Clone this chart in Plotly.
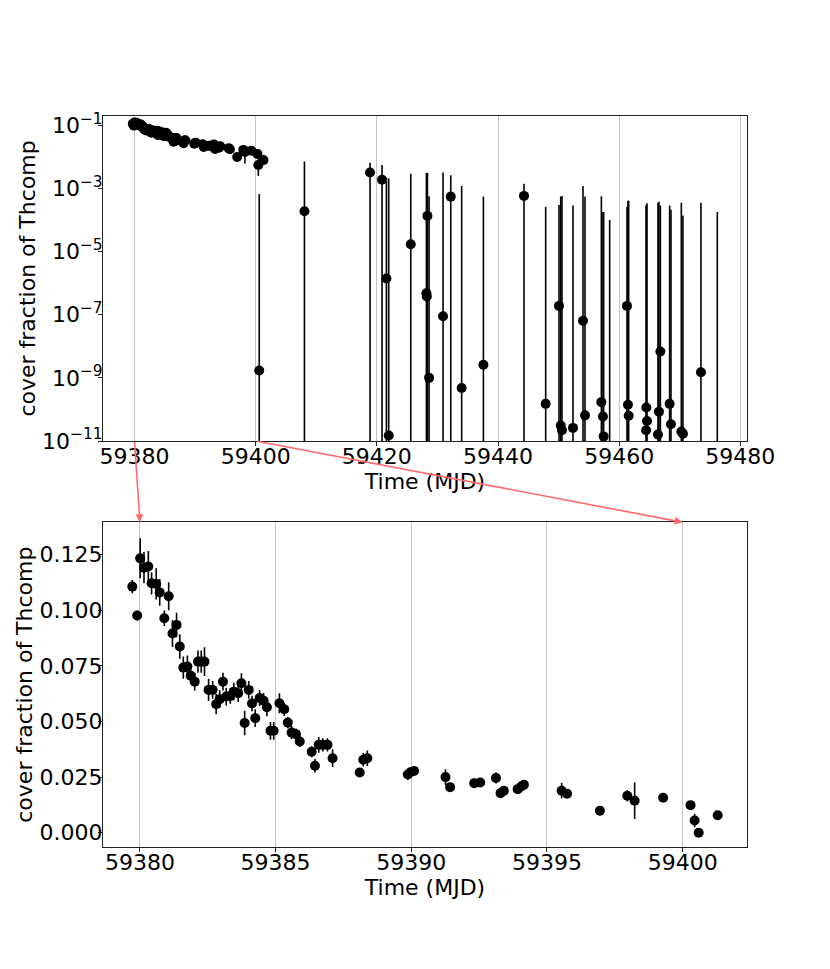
import numpy as np
import plotly.graph_objects as go

# ---------------- data ----------------
mjd = [
    59379.72, 59379.90, 59380.01, 59380.15, 59380.31, 59380.43, 59380.60, 59380.73, 59380.90, 59381.06,
    59381.20, 59381.35, 59381.47, 59381.60, 59381.75, 59381.87, 59382.02, 59382.14, 59382.26, 59382.38,
    59382.53, 59382.68, 59382.81, 59382.94, 59383.06, 59383.18, 59383.33, 59383.46, 59383.62, 59383.74,
    59383.86, 59384.01, 59384.13, 59384.25, 59384.41, 59384.56, 59384.68, 59384.81, 59384.93, 59385.14,
    59385.32, 59385.45, 59385.59, 59385.75, 59385.89, 59386.33, 59386.45, 59386.59, 59386.74, 59386.91,
    59387.10, 59388.10, 59388.23, 59388.38, 59389.87, 59389.97, 59390.10, 59391.26, 59391.43, 59392.32,
    59392.54, 59393.12, 59393.29, 59393.41, 59393.92, 59394.05, 59394.15, 59395.54, 59395.74, 59396.95,
    59397.96, 59398.23, 59399.28, 59400.29, 59400.44, 59400.59, 59401.29,
    59408.05, 59418.88, 59420.86, 59421.58, 59421.96, 59425.60, 59428.35, 59428.18, 59428.25, 59428.62,
    59430.93, 59432.20, 59434.00, 59437.59, 59444.29,
    59447.87, 59450.07, 59450.35, 59450.56, 59452.38, 59454.03, 59454.36, 59457.06, 59457.33, 59457.44,
    59458.43, 59461.29, 59461.45, 59461.57, 59464.49, 59464.59, 59464.45, 59466.80, 59466.57, 59466.40,
    59468.33, 59468.55, 59470.26, 59470.53, 59473.50, 59476.20,
]
cover = [
    0.1106, 0.0976, 0.1233, 0.1191, 0.1196, 0.1121, 0.1118, 0.1080, 0.0964, 0.1063,
    0.0895, 0.0934, 0.0837, 0.0742, 0.0747, 0.0706, 0.0679, 0.0769, 0.0769, 0.0769,
    0.0642, 0.0642, 0.0578, 0.0600, 0.0679, 0.0612, 0.0615, 0.0634, 0.0627, 0.0672,
    0.0493, 0.0642, 0.0581, 0.0515, 0.0605, 0.0593, 0.0564, 0.0458, 0.0458, 0.0582,
    0.0555, 0.0495, 0.0450, 0.0443, 0.0410, 0.0364, 0.0301, 0.0395, 0.0395, 0.0395,
    0.0335, 0.0271, 0.0328, 0.0335, 0.0262, 0.0272, 0.0278, 0.0250, 0.0205, 0.0223,
    0.0226, 0.0246, 0.0178, 0.0189, 0.0196, 0.0208, 0.0216, 0.0189, 0.0175, 0.0099,
    0.0166, 0.0144, 0.0157, 0.0124, 0.0055, 1.7e-9, 0.0079,
    1.9e-4, 3.2e-3, 1.9e-3, 1.4e-6, 1.5e-11, 1.7e-5, 1.35e-4, 4.8e-7, 3.8e-7, 1.0e-9,
    8.9e-8, 5.5e-4, 4.8e-10, 2.6e-9, 5.8e-4,
    1.5e-10, 1.9e-7, 3.1e-11, 2.2e-11, 2.6e-11, 6.4e-8, 6.5e-11, 1.7e-10, 6.0e-11, 1.4e-11,
    1e-13, 1.9e-7, 1.4e-10, 6.3e-11, 1.15e-10, 4.3e-11, 2.2e-11, 6.8e-9, 8.5e-11, 1.6e-11,
    1.5e-10, 3.4e-11, 2.0e-11, 1.7e-11, 1.5e-9, 1e-13,
]
cover_err = [
    0.0030, 0.0022, 0.0090, 0.0070, 0.0070, 0.0050, 0.0070, 0.0060, 0.0035, 0.0063,
    0.0060, 0.0055, 0.0055, 0.0050, 0.0050, 0.0035, 0.0040, 0.0050, 0.0050, 0.0065,
    0.0050, 0.0040, 0.0045, 0.0040, 0.0040, 0.0040, 0.0035, 0.0040, 0.0040, 0.0045,
    0.0055, 0.0040, 0.0035, 0.0040, 0.0035, 0.0035, 0.0040, 0.0040, 0.0040, 0.0045,
    0.0030, 0.0025, 0.0030, 0.0025, 0.0025, 0.0025, 0.0030, 0.0035, 0.0030, 0.0030,
    0.0040, 0.0020, 0.0030, 0.0035, 0.0025, 0.0020, 0.0015, 0.0035, 0.0015, 0.0020,
    0.0015, 0.0025, 0.0015, 0.0015, 0.0015, 0.0020, 0.0020, 0.0035, 0.0015, 0.0020,
    0.0025, 0.0082, 0.0015, 0.0015, 0.0030, 6.6e-4, 0.0015,
    7.0e-3, 3.3e-3, 3.6e-3, 2.1e-3, 2.1e-3, 2.9e-3, 3.0e-3, 3.1e-3, 3.0e-3, 5.7e-4,
    3.2e-3, 2.05e-3, 1.2e-3, 5.5e-4, 8.2e-4,
    2.6e-4, 3.0e-4, 5.6e-4, 5.8e-4, 2.9e-4, 1.2e-3, 5.6e-4, 5.7e-4, 1.8e-4, 1.8e-4,
    1.0e-4, 2.6e-4, 4.1e-4, 4.1e-4, 2.9e-4, 3.4e-4, 2.9e-4, 2.9e-4, 3.8e-4, 3.5e-4,
    2.9e-4, 2.1e-4, 3.5e-4, 1.4e-4, 3.5e-4, 1.8e-4,
]

top_xticks = [59380, 59400, 59420, 59440, 59460, 59480]
bot_xticks = [59380, 59385, 59390, 59395, 59400]
top_ytick_exp = [-11, -9, -7, -5, -3, -1]
bot_yticks = [0.000, 0.025, 0.050, 0.075, 0.100, 0.125]

# ---------------- layout geometry ----------------
# the page body adds an 8px offset, so the figure is slightly smaller
W, H = 822, 961
ML, MR, MT, MB = 95, 83, 108, 122
top_dom = [0.5554, 1.0]
bot_dom = [0.0, 0.4442]
top_xr = [59374.8, 59481.1]
top_yr = [-11.0, -0.706]
bot_xr = [59378.64, 59402.37]
bot_yr = [-0.0064, 0.1395]

x = np.array(mjd)
v = np.array(cover)
e = np.array(cover_err)
floor = 1e-15
minus_log = np.where(v > e, e, v - floor)

FONT = "DejaVu Sans"
fig = go.Figure()

fig.add_trace(go.Scatter(
    x=x, y=v, mode="markers",
    marker=dict(color="black", size=10),
    error_y=dict(type="data", symmetric=False, array=e, arrayminus=minus_log,
                 color="black", thickness=1.6, width=0),
    xaxis="x", yaxis="y", showlegend=False, cliponaxis=True,
))

m = x < bot_xr[1]
fig.add_trace(go.Scatter(
    x=x[m], y=v[m], mode="markers",
    marker=dict(color="black", size=10),
    error_y=dict(type="data", array=e[m], color="black", thickness=1.6, width=0),
    xaxis="x2", yaxis="y2", showlegend=False, cliponaxis=True,
))

axis_common = dict(
    showline=True, mirror=True, linecolor="#222", linewidth=1,
    ticks="outside", ticklen=4, tickwidth=1, tickcolor="#222",
    tickfont=dict(family=FONT, size=22, color="black"),
    zeroline=False, automargin=False,
)
xstand = -8
ystand = -9

fig.update_layout(
    width=W, height=H,
    margin=dict(l=ML, r=MR, t=MT, b=MB),
    paper_bgcolor="white", plot_bgcolor="white",
    font=dict(family=FONT, size=22, color="black"),
    xaxis=dict(domain=[0, 1], anchor="y", range=top_xr,
               tickvals=top_xticks, ticktext=[str(t) for t in top_xticks],
               showgrid=True, gridcolor="#c4c4c4", gridwidth=1, ticklabelstandoff=xstand,
               title=dict(text="Time (MJD)", font=dict(family=FONT, size=22), standoff=0),
               **axis_common),
    yaxis=dict(domain=top_dom, anchor="x", type="log", range=top_yr,
               tickvals=[10.0 ** p for p in top_ytick_exp],
               ticktext=["10<sup>\u2212%d</sup>" % (-p) for p in top_ytick_exp],
               showgrid=False, ticklabelstandoff=ystand,
               title=dict(text="cover fraction of Thcomp", font=dict(family=FONT, size=22), standoff=0),
               **axis_common),
    xaxis2=dict(domain=[0, 1], anchor="y2", range=bot_xr,
                tickvals=bot_xticks, ticktext=[str(t) for t in bot_xticks],
                showgrid=True, gridcolor="#c4c4c4", gridwidth=1, ticklabelstandoff=xstand,
                title=dict(text="Time (MJD)", font=dict(family=FONT, size=22), standoff=0),
                **axis_common),
    yaxis2=dict(domain=bot_dom, anchor="x2", range=bot_yr,
                tickvals=bot_yticks, ticktext=["%.3f" % t for t in bot_yticks],
                showgrid=False, ticklabelstandoff=ystand,
                title=dict(text="cover fraction of Thcomp", font=dict(family=FONT, size=22), standoff=0),
                **axis_common),
)

# ---------------- connection arrows ----------------
pw = W - ML - MR
ph = H - MT - MB


def to_px(val, rng, dom, horizontal, log=False):
    t = np.log10(val) if log else val
    frac = (t - rng[0]) / (rng[1] - rng[0])
    p = dom[0] + frac * (dom[1] - dom[0])
    return ML + p * pw if horizontal else MT + (1 - p) * ph


for xv in [59380, 59400]:
    tail_x = to_px(xv, top_xr, [0, 1], True)
    tail_y = to_px(10.0 ** top_yr[0], top_yr, top_dom, False, log=True)
    head_x = to_px(xv, bot_xr, [0, 1], True)
    head_y = to_px(bot_yr[1], bot_yr, bot_dom, False)
    fig.add_annotation(
        x=(head_x - ML) / pw, y=1 - (head_y - MT) / ph, xref="paper", yref="paper",
        ax=tail_x - head_x, ay=tail_y - head_y, axref="pixel", ayref="pixel",
        showarrow=True, arrowhead=2, arrowsize=1, arrowwidth=1.6,
        arrowcolor="#ff6b6b", standoff=0, startstandoff=0, text="",
    )

fig.write_html("out.html")
